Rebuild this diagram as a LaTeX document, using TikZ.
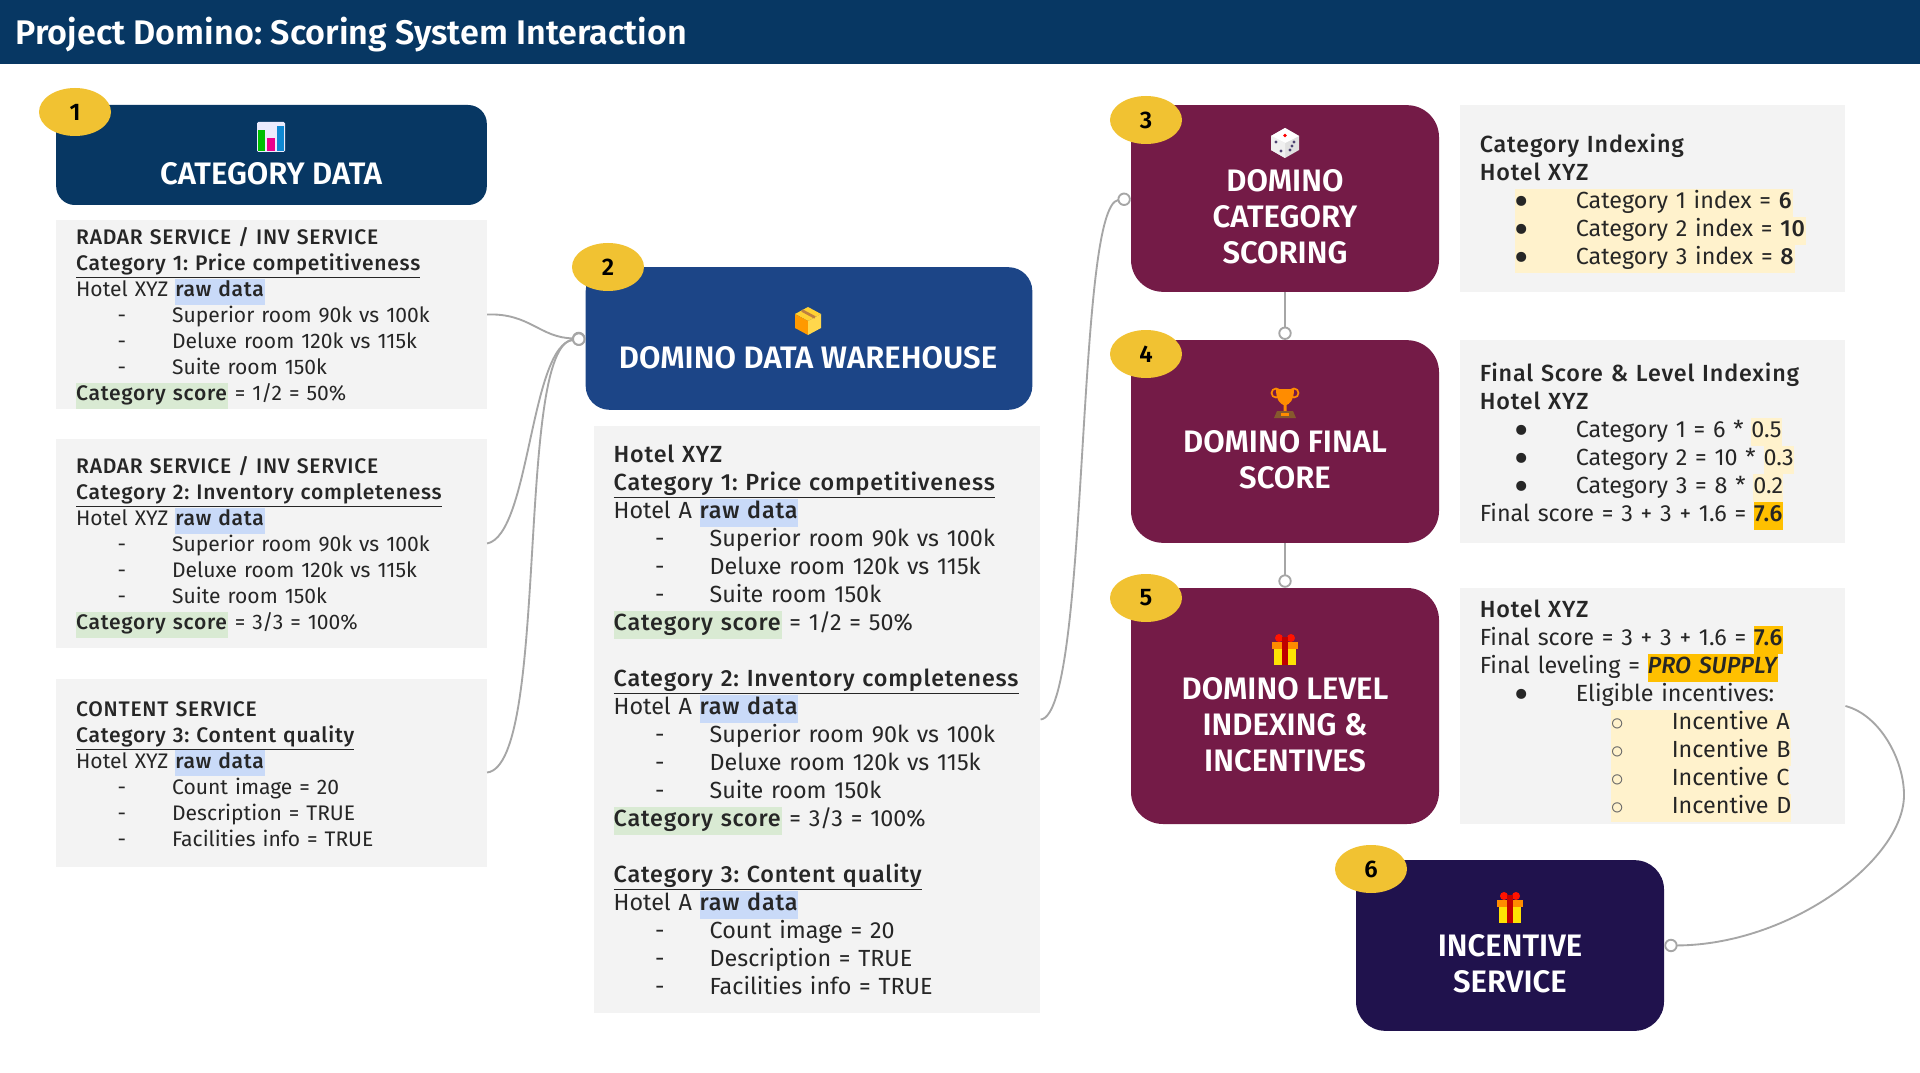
\documentclass[tikz,border=0pt]{standalone}
\usepackage{fontspec}
\setmainfont[BoldFont={Fira Sans Medium},BoldFeatures={LetterSpace=3.5}]{Fira Sans}
\newfontfamily\headfont[BoldFont={Fira Sans SemiBold}]{Fira Sans}
\usetikzlibrary{arrows.meta,shapes.geometric}
\frenchspacing
\definecolor{navy}{HTML}{073763}
\definecolor{wareblue}{HTML}{1C4587}
\definecolor{wine}{HTML}{741B47}
\definecolor{indigo}{HTML}{20124D}
\definecolor{badge}{HTML}{F1C232}
\definecolor{panelgray}{HTML}{F3F3F3}
\definecolor{rawblue}{HTML}{C9DAF8}
\definecolor{scoregreen}{HTML}{D9EAD3}
\definecolor{softyellow}{HTML}{FFF2CC}
\definecolor{strongyellow}{HTML}{FFC000}
\definecolor{linkgray}{HTML}{A6A6A6}
\newcommand{\hlbox}[2]{{\setlength{\fboxsep}{0pt}\colorbox{#1}{\strut #2}}}
\newcommand{\rawtag}{\hlbox{rawblue}{\textbf{raw data}}}
\newcommand{\scoretag}{\hlbox{scoregreen}{\textbf{Category score}}}
\newcommand{\bigdot}{\smash{\raisebox{-6pt}{\scalebox{1.9}{\textbullet}}}}
\newcommand{\smallring}{\smash{\raisebox{-0.6pt}{\scalebox{1.15}{\textcolor{black!60}{$\circ$}}}}}
\newcommand{\dashitem}[1]{\makebox[31pt][l]{}\makebox[41pt][l]{-}#1}
\newcommand{\dotitem}[1]{\makebox[26pt][l]{}\makebox[46pt][l]{\bigdot}#1}
\newcommand{\hotitem}[1]{\makebox[26pt][l]{}\hlbox{softyellow}{\makebox[46pt][l]{\bigdot}#1}}
\newcommand{\ringitem}[1]{\makebox[98pt][l]{}\hlbox{softyellow}{\makebox[46pt][l]{\smallring}#1}}
\newcommand{\lastdrop}{\rule[-5pt]{0pt}{5pt}}
\tikzset{
  title/.style={rounded corners=16pt, inner sep=0pt, text=white, align=center, font=\headfont\bfseries\fontsize{23.3}{27}\selectfont},
  lift/.style={execute at begin node={\rule{0pt}{#1}}},
  panel/.style={fill=panelgray, text=black!85, inner xsep=15pt, inner ysep=0pt, align=left, font=\fontsize{15.8}{19.5}\selectfont, lift=18.5pt},
  bigpanel/.style={panel, font=\fontsize{17.5}{21}\selectfont, lift=14.5pt},
  widepanel/.style={bigpanel, text width=259pt, lift=21pt},
  num/.style={ellipse, fill=badge, minimum width=54pt, minimum height=36pt, inner sep=0pt, font=\headfont\bfseries\fontsize{18}{18}\selectfont},
  link/.style={draw=linkgray, line width=1.4pt, -{Circle[open,fill=white,length=10pt,width=10pt]}},
  pics/barchart/.style={code={
    \fill[rounded corners=1pt, black!10!blue!8] (-14,-15) rectangle (14,15);
    \fill[green!75!black] (-13,-7) rectangle (-6,14);
    \fill[magenta] (-4,1) rectangle (4,14);
    \fill[cyan!70!blue] (6,-11) rectangle (13,14);
  }},
  pics/dice/.style={code={
    \fill[black!12] (-14,-7) -- (0,-15) -- (14,-7) -- (14,7) -- (0,15) -- (-14,7) -- cycle;
    \fill[white] (-14,-7) -- (0,-15) -- (14,-7) -- (0,0) -- cycle;
    \fill[black!6] (-14,-7) -- (0,0) -- (0,15) -- (-14,7) -- cycle;
    \fill[red] (0,-7.5) circle (1.8);
    \foreach \dotx/\doty in {-9/-1,-4/8,5/7,9/-1,7/3}
      \fill[indigo!80] (\dotx,\doty) circle (1.6);
  }},
  pics/parcel/.style={code={
    \fill[orange!45!yellow!80!white] (-13,-7) -- (0,-14) -- (13,-7) -- (0,0) -- cycle;
    \fill[orange!80!yellow] (-13,-7) -- (0,0) -- (0,14) -- (-13,7) -- cycle;
    \fill[orange!45!yellow!70!white] (0,0) -- (13,-7) -- (13,7) -- (0,14) -- cycle;
    \draw[brown, line width=2pt] (-6,-10.5) -- (7,-3.5);
  }},
  pics/trophy/.style={code={
    \draw[orange!90!yellow, line width=1.3pt] (-9,-11) circle (4.5) (9,-11) circle (4.5);
    \fill[orange!90!yellow] (-9,-15) -- (9,-15) .. controls (9,-3) and (4,0) .. (1.5,1) -- (1.5,7) -- (-1.5,7) -- (-1.5,1) .. controls (-4,0) and (-9,-3) .. cycle;
    \fill[brown!70!black] (-8,7) -- (8,7) -- (11,14) -- (-11,14) -- cycle;
    \fill[orange!90!yellow] (-4,9) rectangle (4,12);
  }},
  pics/gift/.style={code={
    \fill[red!85!orange] (-6,-13) circle (4) (6,-13) circle (4);
    \fill[yellow!85!orange] (-11,-3) rectangle (11,14);
    \fill[orange!90!yellow] (-13,-9) rectangle (13,-2);
    \fill[red!75!black] (-3,-14) rectangle (3,14);
  }}
}
\begin{document}
\begin{tikzpicture}[x=0.75pt,y=-0.75pt]
  \useasboundingbox (0,0) rectangle (1920,1073);
  \fill[white] (0,0) rectangle (1920,1073);
  \node[anchor=north west, fill=navy, minimum width=1440pt, minimum height=48pt, inner sep=0pt] (header) at (0,0) {};
  \node[anchor=west, text=white, font=\headfont\bfseries\fontsize{25.6}{26}\selectfont] (headertext) at (11,35) {Project Domino: Scoring System Interaction};

  % service boxes
  \node[title, rounded corners=14pt, fill=navy, minimum width=323pt, minimum height=75pt] (catdata) at (271.5,155) {};
  \node[title, rounded corners=18pt, fill=wareblue, minimum width=335pt, minimum height=107pt] (warehouse) at (809,338.5) {};
  \node[title, rounded corners=24pt, fill=wine, minimum width=231pt, minimum height=140pt] (scoring) at (1285,198.5) {};
  \node[title, rounded corners=24pt, fill=wine, minimum width=231pt, minimum height=152pt] (finalscore) at (1285,441.5) {};
  \node[title, rounded corners=24pt, fill=wine, minimum width=231pt, minimum height=177pt] (leveling) at (1285,706) {};
  \node[title, rounded corners=22pt, fill=indigo, minimum width=231pt, minimum height=128pt] (incentive) at (1510,945.5) {};

  % box labels
  \node[title] (catdatatext) at (271,174) {CATEGORY DATA};
  \node[title] (warehousetext) at (808,358) {DOMINO DATA WAREHOUSE};
  \node[title] (scoringtext) at (1285,217) {DOMINO\\CATEGORY\\SCORING};
  \node[title] (finalscoretext) at (1285,460) {DOMINO FINAL\\SCORE};
  \node[title] (levelingtext) at (1285,725) {DOMINO LEVEL\\INDEXING \&\\INCENTIVES};
  \node[title] (incentivetext) at (1510,964) {INCENTIVE\\SERVICE};

  % icons
  \pic at (271,137) {barchart};
  \pic at (808,321) {parcel};
  \pic at (1285,143) {dice};
  \pic at (1285,404) {trophy};
  \pic at (1285,651) {gift};
  \pic at (1510,909) {gift};

  % source panels
  \node[panel, text width=293pt, minimum height=141pt] (radarone) at (271.5,314.5) {%
    \textbf{RADAR SERVICE / INV SERVICE}\\
    \textbf{\underline{Category 1: Price competitiveness}}\\
    Hotel XYZ \rawtag\\
    \dashitem{Superior room 90k vs 100k}\\
    \dashitem{Deluxe room 120k vs 115k}\\
    \dashitem{Suite room 150k}\\
    \scoretag{} = 1/2 = 50\%};
  \node[panel, text width=293pt, minimum height=157pt] (radartwo) at (271.5,543.5) {%
    \textbf{RADAR SERVICE / INV SERVICE}\\
    \textbf{\underline{Category 2: Inventory completeness}}\\
    Hotel XYZ \rawtag\\
    \dashitem{Superior room 90k vs 100k}\\
    \dashitem{Deluxe room 120k vs 115k}\\
    \dashitem{Suite room 150k}\\
    \scoretag{} = 3/3 = 100\%};
  \node[panel, lift=12pt, text width=293pt, minimum height=141pt] (content) at (271.5,772.5) {%
    \textbf{CONTENT SERVICE}\\
    \textbf{\underline{Category 3: Content quality}}\\
    Hotel XYZ \rawtag\\
    \dashitem{Count image = 20}\\
    \dashitem{Description = TRUE}\\
    \dashitem{Facilities info = TRUE}\lastdrop};

  % warehouse panel
  \node[bigpanel, text width=305pt, minimum height=440pt] (warehousedata) at (817,719.5) {%
    \textbf{Hotel XYZ}\\
    \textbf{\underline{Category 1: Price competitiveness}}\\
    Hotel A \rawtag\\
    \dashitem{Superior room 90k vs 100k}\\
    \dashitem{Deluxe room 120k vs 115k}\\
    \dashitem{Suite room 150k}\\
    \scoretag{} = 1/2 = 50\%\\[21pt]
    \textbf{\underline{Category 2: Inventory completeness}}\\
    Hotel A \rawtag\\
    \dashitem{Superior room 90k vs 100k}\\
    \dashitem{Deluxe room 120k vs 115k}\\
    \dashitem{Suite room 150k}\\
    \scoretag{} = 3/3 = 100\%\\[21pt]
    \textbf{\underline{Category 3: Content quality}}\\
    Hotel A \rawtag\\
    \dashitem{Count image = 20}\\
    \dashitem{Description = TRUE}\\
    \dashitem{Facilities info = TRUE}\lastdrop};

  % result panels
  \node[widepanel, minimum height=140pt] (indexing) at (1652.5,198.5) {%
    \textbf{Category Indexing}\\
    \textbf{Hotel XYZ}\\
    \hotitem{Category 1 index = \textbf{6}}\\
    \hotitem{Category 2 index = \textbf{10}}\\
    \hotitem{Category 3 index = \textbf{8}}};
  \node[widepanel, minimum height=152pt] (finalindex) at (1652.5,441.5) {%
    \textbf{Final Score \& Level Indexing}\\
    \textbf{Hotel XYZ}\\
    \dotitem{Category 1 = 6 * \hlbox{softyellow}{0.5}}\\
    \dotitem{Category 2 = 10 * \hlbox{softyellow}{0.3}}\\
    \dotitem{Category 3 = 8 * \hlbox{softyellow}{0.2}}\\
    Final score = 3 + 3 + 1.6 = \hlbox{strongyellow}{\textbf{7.6}}};
  \node[widepanel, minimum height=177pt] (levelindex) at (1652.5,706) {%
    \textbf{Hotel XYZ}\\
    Final score = 3 + 3 + 1.6 = \hlbox{strongyellow}{\textbf{7.6}}\\
    Final leveling = \hlbox{strongyellow}{\textbf{\textit{PRO SUPPLY}}}\\
    \dotitem{Eligible incentives:}\\
    \ringitem{Incentive A}\\
    \ringitem{Incentive B}\\
    \ringitem{Incentive C}\\
    \ringitem{Incentive D}};

  % connectors
  \coordinate (bulge) at (1904,795);
  \draw[link] (radarone.east) .. controls (530,313) and (540,338) .. (warehouse.west);
  \draw[link] (radartwo.east) .. controls (530,535) and (530,345) .. (warehouse.west);
  \draw[link] (content.east) .. controls (550,765) and (515,345) .. (warehouse.west);
  \draw[link] (warehousedata.east) .. controls (1090,715) and (1075,205) .. (scoring.west);
  \draw[link] (scoring.south) -- (finalscore.north);
  \draw[link] (finalscore.south) -- (leveling.north);
  \draw[link] (levelindex.east) .. controls (1880,715) and (1904,760) .. (bulge) .. controls (1904,860) and (1790,945) .. (incentive.east);

  % number badges
  \node[num] (numone) at (75,112) {1};
  \node[num] (numtwo) at (608,267) {2};
  \node[num] (numthree) at (1146,120) {3};
  \node[num] (numfour) at (1146,354) {4};
  \node[num] (numfive) at (1146,598) {5};
  \node[num] (numsix) at (1371,869) {6};
\end{tikzpicture}
\end{document}
